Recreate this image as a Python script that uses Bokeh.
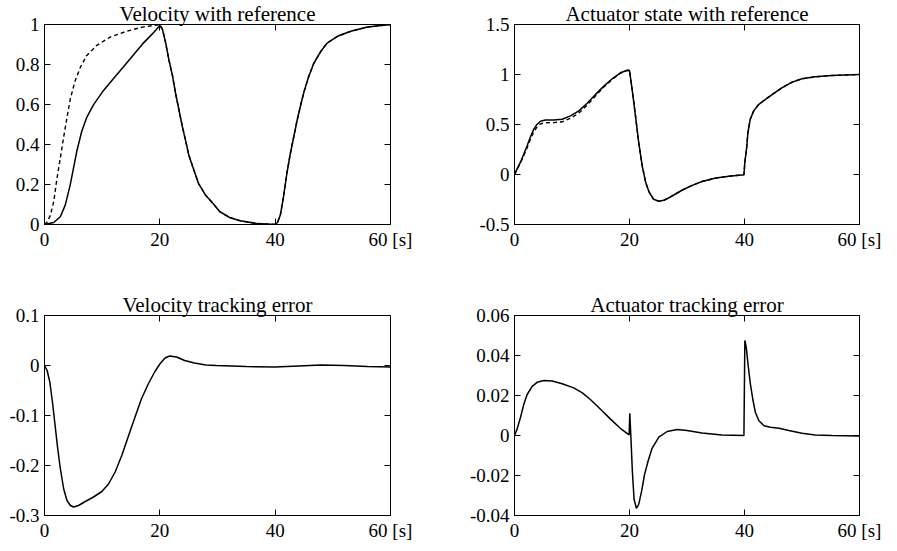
from bokeh.plotting import figure
from bokeh.layouts import row, column
from bokeh.models import LinearAxis, FixedTicker, Range1d
from bokeh.embed import file_html
from bokeh.resources import INLINE

# ---------------- data ----------------
x_ticks = [0, 20, 40, 60]
x_tick_labels = ["0", "20", "40", "60 [s]"]

# Velocity with reference (solid = velocity, dashed = reference)
vel_t = [0, 1.6, 2.74, 3.6, 4.46, 5.03, 5.6, 6.46, 7.31, 8.46, 10.17, 11.9, 13.6, 15.3,
         17.0, 18.7, 20.0,
         20.46, 21.0, 21.6, 22.2, 22.7, 23.3, 23.9, 24.5, 25.0, 25.9, 26.7, 27.9,
         29.2, 30.4, 32.1, 33.9, 36.8, 40.0,
         40.4, 40.9, 41.5, 42.0, 42.6, 43.2, 43.8, 44.4, 45.0, 45.8, 46.7, 47.9,
         49.0, 50.8, 53.1, 56.0, 60.0]
vel = [0, 0.01, 0.039, 0.097, 0.198, 0.282, 0.366, 0.466, 0.534, 0.597, 0.668, 0.727,
       0.785, 0.844, 0.903, 0.953, 0.995,
       0.976, 0.909, 0.819, 0.743, 0.66, 0.575, 0.49, 0.416, 0.349, 0.273, 0.206, 0.148,
       0.106, 0.064, 0.035, 0.019, 0.005, 0.0,
       0.01, 0.047, 0.148, 0.25, 0.35, 0.435, 0.52, 0.595, 0.663, 0.739, 0.806, 0.865,
       0.907, 0.941, 0.966, 0.987, 1.0]
vel_ref_t = [0, 0.46, 1.03, 1.6, 2.17, 2.74, 3.3, 3.9, 4.46, 5.3, 6.2, 7.3, 9.0, 11.3,
             14.2, 17.0, 20.0,
             20.46, 21.0, 21.6, 22.2, 22.7, 23.3, 23.9, 24.5, 25.0, 25.9, 26.7, 27.9,
             29.2, 30.4, 32.1, 33.9, 36.8, 40.0,
             40.4, 40.9, 41.5, 42.0, 42.6, 43.2, 43.8, 44.4, 45.0, 45.8, 46.7, 47.9,
             49.0, 50.8, 53.1, 56.0, 60.0]
vel_ref = [0, 0.013, 0.047, 0.114, 0.232, 0.332, 0.433, 0.534, 0.626, 0.718, 0.785,
           0.844, 0.894, 0.936, 0.966, 0.987, 1.0,
           0.976, 0.909, 0.819, 0.743, 0.66, 0.575, 0.49, 0.416, 0.349, 0.273, 0.206, 0.148,
           0.106, 0.064, 0.035, 0.019, 0.005, 0.0,
           0.01, 0.047, 0.148, 0.25, 0.35, 0.435, 0.52, 0.595, 0.663, 0.739, 0.806, 0.865,
           0.907, 0.941, 0.966, 0.987, 1.0]
vel_yticks = [0, 0.2, 0.4, 0.6, 0.8, 1]
vel_ylabels = ["0", "0.2", "0.4", "0.6", "0.8", "1"]

# Actuator state with reference
act_t = [0, 0.46, 1.04, 1.62, 2.2, 2.78, 3.36, 3.94, 4.52, 5.39, 6.84, 8.29, 9.74, 11.19,
         12.64, 14.09, 15.54, 16.99, 18.43, 19.6, 20.0,
         20.46, 21.04, 21.6, 22.2, 22.8, 23.4, 24.2, 25.1, 25.97, 27.1, 28.3,
         29.2, 30.9, 32.6, 35.0, 37.3, 39.9,
         40.06, 40.35, 40.6, 41.0, 41.6, 42.5, 43.65, 45.1, 46.55, 48.3, 50.0, 52.3,
         55.2, 60.0]
act = [0, 0.056, 0.123, 0.205, 0.288, 0.377, 0.454, 0.503, 0.533, 0.546, 0.546, 0.553,
       0.586, 0.636, 0.712, 0.801, 0.884, 0.957, 1.017, 1.043, 1.04,
       0.851, 0.586, 0.321, 0.089, -0.076, -0.175, -0.248, -0.268, -0.258, -0.225, -0.185,
       -0.155, -0.109, -0.07, -0.036, -0.017, -0.003,
       0.123, 0.255, 0.42, 0.553, 0.636, 0.702, 0.752, 0.811, 0.868, 0.924, 0.957, 0.977,
       0.99, 1.0]
act_ref = [0, 0.052, 0.114, 0.19, 0.268, 0.354, 0.429, 0.477, 0.506, 0.518, 0.519, 0.527,
           0.562, 0.614, 0.693, 0.786, 0.874, 0.951, 1.014, 1.042, 1.04,
           0.851, 0.586, 0.321, 0.089, -0.076, -0.175, -0.248, -0.268, -0.258, -0.225, -0.185,
           -0.155, -0.109, -0.07, -0.036, -0.017, -0.003,
           0.123, 0.255, 0.42, 0.553, 0.636, 0.702, 0.752, 0.811, 0.868, 0.924, 0.957, 0.977,
           0.99, 1.0]
act_yticks = [-0.5, 0, 0.5, 1, 1.5]
act_ylabels = ["-0.5", "0", "0.5", "1", "1.5"]

# Velocity tracking error
verr_t = [0, 0.46, 0.92, 1.38, 1.84, 2.3, 2.76, 3.33, 3.9, 4.48, 5.06, 5.9, 7.07, 8.5,
          9.94, 11.1, 12.25, 13.4, 14.5, 15.7, 16.8, 17.99, 19.1, 20.0, 20.9, 21.7,
          22.9, 24.3, 26.0, 28.0, 29.8, 35, 40, 44, 48, 52, 56, 60]
verr = [0, -0.01, -0.033, -0.073, -0.12, -0.167, -0.207, -0.247, -0.27, -0.28, -0.283,
        -0.28, -0.272, -0.263, -0.252, -0.237, -0.213, -0.18, -0.143, -0.103, -0.067,
        -0.037, -0.013, 0.003, 0.015, 0.019, 0.017, 0.01, 0.005, 0.001, 0.0,
        -0.002, -0.003, -0.001, 0.001, 0.0, -0.002, -0.003]
verr_yticks = [-0.3, -0.2, -0.1, 0, 0.1]
verr_ylabels = ["-0.3", "-0.2", "-0.1", "0", "0.1"]

# Actuator tracking error
aerr_t = [0, 0.46, 1.04, 1.62, 2.2, 3.07, 3.94, 5.1, 6.55, 8.29, 10.3, 11.8, 13.2, 14.96,
          16.7, 18.4, 19.7, 19.94, 20.05, 20.23, 20.5, 20.8, 21.2, 21.6, 22.1, 22.6, 23.2,
          23.9, 25.1, 26.55, 28.3, 30.0, 32.6, 36.1, 39.9,
          40.06, 40.3, 40.6, 41.0, 41.45, 41.9, 42.5, 43.4, 44.5, 46.0, 47.7, 50.0, 52.3,
          55.2, 60.0]
aerr = [0, 0.0033, 0.009, 0.0156, 0.0205, 0.0246, 0.0266, 0.0275, 0.0272, 0.0259, 0.0238,
        0.0213, 0.018, 0.0131, 0.0082, 0.0036, 0.0008, 0.0003, 0.0111, 0.0, -0.018, -0.032,
        -0.0364, -0.0344, -0.0279, -0.0197, -0.0131, -0.0066, -0.0008, 0.002, 0.003,
        0.0025, 0.0013, 0.0003, 0.0,
        0.0475, 0.0443, 0.036, 0.0262, 0.018, 0.0115, 0.0074, 0.0049, 0.0041, 0.0036,
        0.0025, 0.0011, 0.0003, 0.0, -0.0003]
aerr_yticks = [-0.04, -0.02, 0, 0.02, 0.04, 0.06]
aerr_ylabels = ["-0.04", "-0.02", "0", "0.02", "0.04", "0.06"]

# ---------------- styling ----------------
FONT = "Liberation Serif"
TICK_FS = "19px"
TITLE_FS = "21px"


def panel(title, yr, yticks, ylabels, left, right, bottom, fw, fh):
    p = figure(output_backend="svg", toolbar_location=None,
               frame_width=fw, frame_height=fh,
               x_range=Range1d(0, 60), y_range=Range1d(*yr),
               min_border_left=left, min_border_right=right,
               min_border_top=0, min_border_bottom=bottom,
               background_fill_color="white", border_fill_color="white",
               outline_line_color="black", outline_line_width=1)
    p.title.text = title
    p.title.align = "center"
    p.title.text_font = FONT
    p.title.text_font_size = TITLE_FS
    p.title.text_font_style = "normal"
    p.title.text_color = "black"
    p.title.standoff = -2
    p.grid.visible = False

    xa = p.xaxis[0]
    ya = p.yaxis[0]
    xa.ticker = FixedTicker(ticks=x_ticks)
    xa.major_label_overrides = dict(zip(x_ticks, x_tick_labels))
    ya.ticker = FixedTicker(ticks=yticks)
    ya.major_label_overrides = dict(zip(yticks, ylabels))
    for ax in (xa, ya):
        ax.major_tick_in = 6
        ax.major_tick_out = 0
        ax.minor_tick_line_color = None
        ax.axis_line_color = "black"
        ax.major_tick_line_color = "black"
        ax.major_label_text_font = FONT
        ax.major_label_text_font_size = TICK_FS
        ax.major_label_text_color = "black"
        ax.major_label_standoff = 5
    xa.major_label_standoff = 4

    top = LinearAxis(ticker=FixedTicker(ticks=x_ticks), major_tick_in=6, major_tick_out=0,
                     minor_tick_line_color=None, axis_line_color=None,
                     major_label_text_color=None, major_label_text_font_size="1px",
                     major_label_standoff=0)
    rgt = LinearAxis(ticker=FixedTicker(ticks=yticks), major_tick_in=6, major_tick_out=0,
                     minor_tick_line_color=None, axis_line_color=None,
                     major_label_text_color=None, major_label_text_font_size="1px",
                     major_label_standoff=0)
    p.add_layout(top, "above")
    p.add_layout(rgt, "right")
    return p


p1 = panel("Velocity with reference", (0, 1), vel_yticks, vel_ylabels, 44, 32, 67, 346, 200)
p1.line(vel_ref_t, vel_ref, line_color="black", line_width=1.4, line_dash="4 3")
p1.line(vel_t, vel, line_color="black", line_width=1.5)

p2 = panel("Actuator state with reference", (-0.5, 1.5), act_yticks, act_ylabels, 92, 22, 67, 345, 200)
p2.line(act_t, act_ref, line_color="black", line_width=1.4, line_dash="4 3")
p2.line(act_t, act, line_color="black", line_width=1.5)

p3 = panel("Velocity tracking error", (-0.3, 0.1), verr_yticks, verr_ylabels, 44, 32, 24, 346, 200)
p3.line(verr_t, verr, line_color="black", line_width=1.5)

p4 = panel("Actuator tracking error", (-0.04, 0.06), aerr_yticks, aerr_ylabels, 92, 22, 24, 345, 200)
p4.line(aerr_t, aerr, line_color="black", line_width=1.5)

layout = column(row(p1, p2), row(p3, p4))

open("out.html", "w").write(file_html(layout, INLINE))
